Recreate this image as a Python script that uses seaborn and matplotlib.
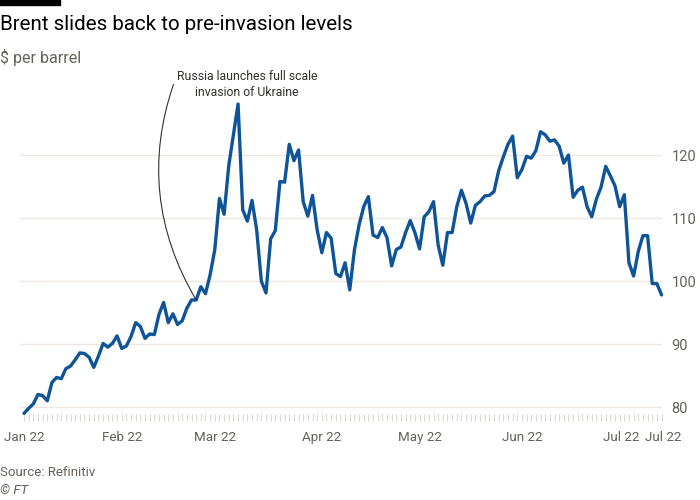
"""Brent crude price chart, FT style"""
import pandas as pd
import matplotlib
matplotlib.use('Agg')
import matplotlib.pyplot as plt
import matplotlib.transforms as mtransforms
import seaborn as sns

#Brent crude, $ per barrel, one value per trading day from 3 Jan 2022
brent = [79.0, 79.8, 80.5, 82.0, 81.8, 81.0, 83.9, 84.7, 84.5, 86.1,
         86.5, 87.5, 88.6, 88.5, 87.9, 86.3, 88.1, 90.1, 89.5, 90.1,
         91.3, 89.3, 89.7, 91.2, 93.4, 92.8, 90.9, 91.6, 91.5, 94.7,
         96.6, 93.4, 94.8, 93.1, 93.7, 95.7, 97.0, 97.0, 99.1, 98.0,
         101.0, 105.0, 113.1, 110.6, 118.3, 123.2, 128.1, 111.3, 109.5, 112.8,
         108.1, 100.0, 98.1, 106.7, 108.0, 115.8, 115.7, 121.7, 119.1, 120.8,
         112.6, 110.3, 113.6, 108.1, 104.5, 107.7, 106.8, 101.2, 100.7, 102.9,
         98.6, 104.9, 108.9, 111.8, 113.4, 107.3, 106.9, 108.5, 106.9, 102.4,
         105.0, 105.4, 107.7, 109.6, 107.7, 105.1, 110.2, 111.0, 112.6, 105.7,
         102.5, 107.7, 107.7, 111.8, 114.4, 112.3, 109.2, 112.0, 112.6, 113.5,
         113.6, 114.2, 117.5, 119.7, 121.7, 123.0, 116.4, 117.7, 119.8, 119.5,
         120.7, 123.7, 123.2, 122.2, 122.4, 121.4, 118.7, 120.0, 113.3, 114.4,
         114.9, 111.8, 110.2, 113.0, 114.9, 118.2, 116.7, 115.1, 111.8, 113.7,
         102.9, 100.8, 104.7, 107.2, 107.2, 99.6, 99.6, 97.8]
dates = pd.bdate_range('2022-01-03', periods=len(brent))
y_ticks = [80, 90, 100, 110, 120]

title = 'Brent slides back to pre-invasion levels'
subtitle = '$ per barrel'
source = 'Source: Refinitiv'
note = 'Russia launches full scale\ninvasion of Ukraine'
note_date = '2022-02-23'

df = pd.DataFrame({'pos': range(len(brent)), 'date': dates, 'price': brent})

#x labels: first day, each month start, last day
label_pos = [0] + [i for i in range(1, len(dates))
                   if dates[i].month != dates[i - 1].month] + [len(dates) - 1]
label_txt = [dates[i].strftime('%b %y') for i in label_pos]

sns.set_theme(style='white')
plt.rcParams['font.family'] = ['Roboto', 'DejaVu Sans']

text_dark = '#33302E'
text_grey = '#66605C'
grid_col = '#EDE8E4'
line_col = '#0F5499'

fig = plt.figure(figsize=(7, 5), dpi=100, facecolor='white')
ax = fig.add_axes([20 / 700, 0.172, 642 / 700, 0.632])

sns.lineplot(data=df, x='pos', y='price', ax=ax, color=line_col,
             linewidth=2.4, clip_on=False)

ax.set_xlim(-0.86, 137.1)
ax.set_ylim(78.9, 129.05)
ax.set_xlabel('')
ax.set_ylabel('')

#y axis on the right, gridlines only
ax.yaxis.tick_right()
ax.set_yticks(y_ticks)
ax.tick_params(axis='y', length=0, pad=7, labelsize=10.5, labelcolor=text_grey)
ax.grid(axis='y', color=grid_col, linewidth=1)
ax.grid(axis='x', visible=False)

#x axis: small tick for every trading day
ax.set_xticks(label_pos)
ax.set_xticklabels(label_txt)
ax.set_xticks(df['pos'], minor=True)
ax.tick_params(axis='x', which='both', length=5, width=0.8, color='#DDD8D4',
               pad=7, labelsize=9.6, labelcolor=text_grey, bottom=True)
ax.tick_params(axis='x', which='minor', bottom=True)

#nudge the two July labels apart a little
labels = ax.get_xticklabels()
labels[-2].set_transform(labels[-2].get_transform() +
                         mtransforms.ScaledTranslation(-3 / 100, 0, fig.dpi_scale_trans))
labels[-1].set_transform(labels[-1].get_transform() +
                         mtransforms.ScaledTranslation(2 / 100, 0, fig.dpi_scale_trans))

for spine in ax.spines.values():
    spine.set_visible(False)

#annotation
i_note = dates.get_loc(pd.Timestamp(note_date))
ax.annotate(note, xy=(i_note, brent[i_note]), xytext=(247, 416),
            textcoords='figure pixels', ha='center', va='center',
            fontsize=8.8, color=text_dark, linespacing=1.3,
            arrowprops=dict(arrowstyle='-', color=text_dark, lw=0.8,
                            connectionstyle='arc3,rad=0.24',
                            shrinkA=0, shrinkB=0, relpos=(0, 0.8)))

#titles and footer
fig.patches.append(plt.Rectangle((0, 495 / 500), 60 / 700, 5 / 500,
                                 transform=fig.transFigure, color='black'))
fig.text(0, 1 - 25 / 500, title, fontsize=14.8, color='black', va='center')
fig.text(0, 1 - 57 / 500, subtitle, fontsize=11.5, color=text_grey, va='center')
fig.text(0, 1 - 472 / 500, source, fontsize=9.5, color=text_grey, va='center')
fig.text(0, 1 - 490 / 500, '© FT', fontsize=9.5, color=text_grey,
         style='italic', va='center')

fig.savefig('out.png', dpi=100, facecolor='white')
